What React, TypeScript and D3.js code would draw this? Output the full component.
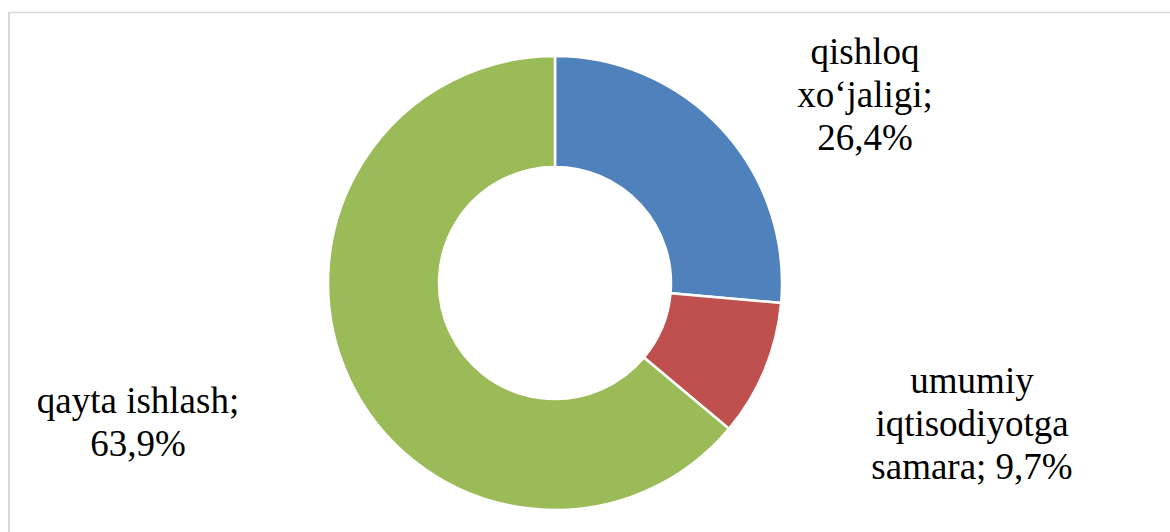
import React from "react";
import * as d3 from "d3";

const categories = ["qishloq xo‘jaligi", "umumiy iqtisodiyotga samara", "qayta ishlash"];
const values = [26.4, 9.7, 63.9];
const valueLabels = ["26,4%", "9,7%", "63,9%"];
const labelLines = [
  ["qishloq", "xo‘jaligi;", "26,4%"],
  ["umumiy", "iqtisodiyotga", "samara; 9,7%"],
  ["qayta ishlash;", "63,9%"],
];
const colors = ["#4F81BD", "#C0504D", "#9BBB59"];

const W = 1170;
const H = 532;
const cx = 555;
const cy = 283;
const outerR = 227;
const innerR = 116;
const lineH = 43;
// label anchor: center x, first baseline y
const labelPos = [
  { x: 865, y: 64 },
  { x: 972, y: 393 },
  { x: 138, y: 413 },
];

export default function App() {
  const pie = d3.pie<number>().sort(null).value((d) => d)(values);
  const arc = d3.arc<d3.PieArcDatum<number>>().innerRadius(innerR).outerRadius(outerR);
  return (
    <svg width={W} height={H} style={{ position: "absolute", left: 0, top: 0, display: "block" }}>
      <rect x={0} y={0} width={W} height={H} fill="#fff" />
      <line x1={8} y1={12.5} x2={W} y2={12.5} stroke="#d9d9d9" strokeWidth={1.5} />
      <line x1={9} y1={12} x2={9} y2={H} stroke="#d9d9d9" strokeWidth={2} />
      <g transform={`translate(${cx},${cy})`}>
        {pie.map((p, i) => (
          <path key={categories[i]} d={arc(p) || ""} fill={colors[i]} stroke="#fff" strokeWidth={2.5} />
        ))}
      </g>
      {labelLines.map((lines, i) =>
        lines.map((l, j) => (
          <text
            key={valueLabels[i] + j}
            x={labelPos[i].x}
            y={labelPos[i].y + j * lineH}
            textAnchor="middle"
            style={{ fontFamily: '"Liberation Serif"', fontSize: 37 }}
            fill="#000"
          >
            {l}
          </text>
        ))
      )}
    </svg>
  );
}
